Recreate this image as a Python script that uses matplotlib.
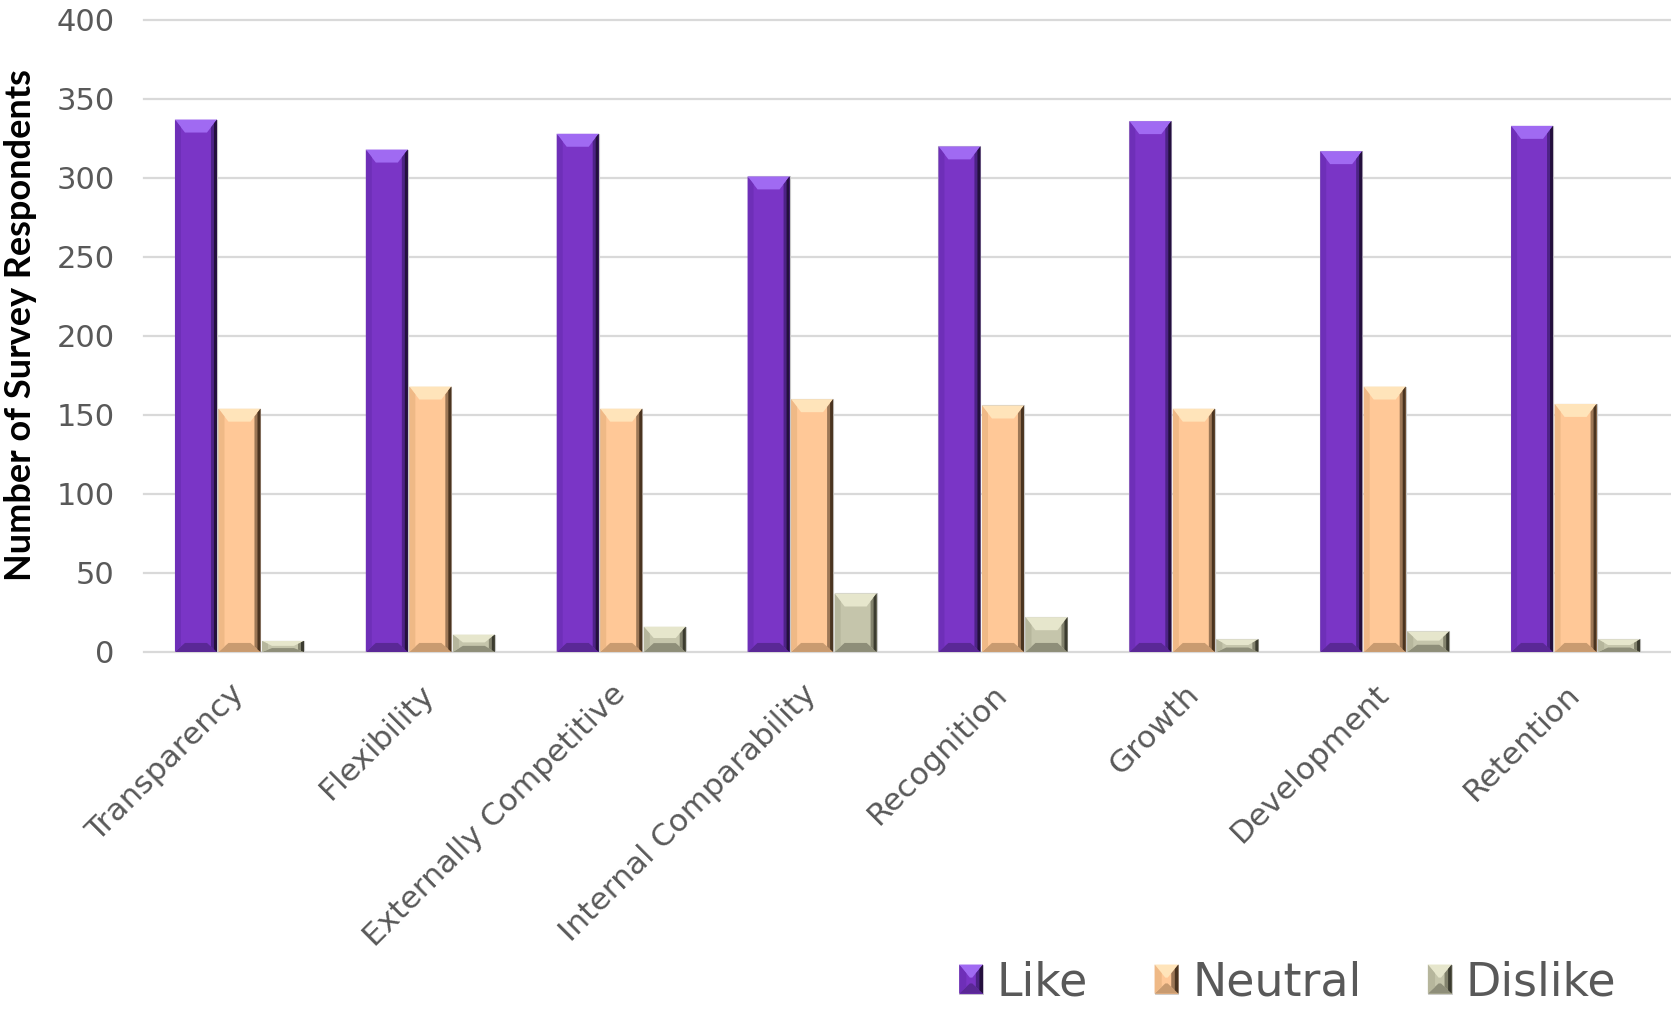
import numpy as np
import matplotlib.pyplot as plt
from matplotlib.patches import Polygon, Patch
from matplotlib.legend_handler import HandlerBase

categories = ['Transparency', 'Flexibility', 'Externally Competitive',
              'Internal Comparability', 'Recognition', 'Growth',
              'Development', 'Retention']
like = [337, 318, 328, 301, 320, 336, 317, 333]
neutral = [154, 168, 154, 160, 156, 154, 168, 157]
dislike = [7, 11, 16, 37, 22, 8, 13, 8]

series_names = ['Like', 'Neutral', 'Dislike']
series_values = [like, neutral, dislike]

# facet colours for the bevelled bars
shades = {
    'Like': dict(base='#7a35c6', top='#a06af2', left='#6e2fb8',
                 right_in='#4d2386', right_out='#24103d', bottom='#5a2896'),
    'Neutral': dict(base='#ffc897', top='#ffe4ba', left='#efb986',
                    right_in='#9c7756', right_out='#4a3420', bottom='#c99b70'),
    'Dislike': dict(base='#c5c5ab', top='#e6e6cc', left='#b6b69c',
                    right_in='#82826d', right_out='#3b3b2f', bottom='#8e8e79'),
}
text_grey = '#595959'


def facets(x0, y0, x1, y1, s, t, b, side):
    # top/bottom trapezoids use the inset s; the side strips are narrower
    xi0, xi1 = x0 + s, x1 - s
    yt, yb = y1 - t, y0 + b
    f = side / s
    return [
        ([(x0, y1), (x1, y1), (xi1, yt), (xi0, yt)], 'top'),
        ([(x0, y0), (x1, y0), (xi1, yb), (xi0, yb)], 'bottom'),
        ([(x0, y1), (x0 + side, y1 - f * t), (x0 + side, y0 + f * b),
          (x0, y0)], 'left'),
        ([(x1, y1), (x1 - side, y1 - f * t), (x1 - side, y0 + f * b),
          (x1, y0)], 'right_in'),
        ([(x1, y1), (x1 - 0.5 * side, y1 - 0.5 * f * t),
          (x1 - 0.5 * side, y0 + 0.5 * f * b), (x1, y0)], 'right_out'),
    ]


class BevelHandler(HandlerBase):
    def __init__(self, pal):
        super().__init__()
        self.pal = pal

    def create_artists(self, legend, orig_handle, xdescent, ydescent,
                       width, height, fontsize, trans):
        x0, y0 = -xdescent, -ydescent
        x1, y1 = x0 + width, y0 + height
        arts = [Polygon([(x0, y0), (x1, y0), (x1, y1), (x0, y1)],
                        closed=True, facecolor=self.pal['base'],
                        edgecolor='#c8c8c8', lw=0.6, transform=trans)]
        for verts, key in facets(x0, y0, x1, y1, width * 0.45,
                                 height * 0.45, height * 0.35, width * 0.3):
            arts.append(Polygon(verts, closed=True, facecolor=self.pal[key],
                                edgecolor='none', transform=trans))
        return arts


fig = plt.figure(figsize=(16.71, 10.10), dpi=100)
ax = fig.add_axes([0.0862, 0.3545, 0.9138, 0.6257])

x = np.arange(len(categories))
width = 0.22
step = 0.228
ax.set_xlim(-0.5, len(categories) - 0.5)
ax.set_ylim(0, 400)

# data units per pixel, used for the bevel insets
pos = ax.get_position()
xpp = (len(categories)) / (pos.width * fig.get_figwidth() * fig.dpi)
ypp = 400 / (pos.height * fig.get_figheight() * fig.dpi)

for i, (name, vals) in enumerate(zip(series_names, series_values)):
    pal = shades[name]
    bars = ax.bar(x + (i - 1) * step, vals, width, color=pal['base'],
                  edgecolor='#c8c8c8', linewidth=0.8, zorder=3)
    for r in bars:
        x0, y0 = r.get_x(), r.get_y()
        x1, y1 = x0 + r.get_width(), y0 + r.get_height()
        h_px = r.get_height() / ypp
        t = min(13, h_px * 0.45) * ypp
        b = min(9, h_px * 0.35) * ypp
        for verts, key in facets(x0, y0, x1, y1, 10 * xpp, t, b, 6 * xpp):
            ax.add_patch(Polygon(verts, closed=True, facecolor=pal[key],
                                 edgecolor='none', zorder=4))

ax.set_yticks(np.arange(0, 401, 50))
ax.yaxis.grid(True, color='#d9d9d9', linewidth=1.6, zorder=0)
for gl in ax.get_ygridlines():
    gl.set_clip_on(False)
ax.set_axisbelow(True)
for sp in ax.spines.values():
    sp.set_visible(False)

ax.tick_params(axis='y', length=0, pad=21, labelsize=22, labelcolor=text_grey)
ax.tick_params(axis='x', length=0, pad=27, labelsize=22.5, labelcolor=text_grey)
ax.set_xticks(x)
ax.set_xticklabels(categories, rotation=45, ha='right', va='center',
                   rotation_mode='anchor')

fig.text(0.0125, 0.678, 'Number of Survey Respondents', rotation=90,
         ha='center', va='center', fontsize=26, fontweight='bold',
         family='Lato', color='black')

handles = [Patch(label=n) for n in series_names]
hmap = {h: BevelHandler(shades[n]) for h, n in zip(handles, series_names)}
fig.legend(handles=handles, handler_map=hmap, loc='center left',
           bbox_to_anchor=(0.574, 0.027), ncol=3, frameon=False,
           fontsize=33, labelcolor=text_grey, handlelength=0.52,
           handleheight=0.6, handletextpad=0.3, columnspacing=1.45,
           borderpad=0, borderaxespad=0)

fig.savefig('out.png', dpi=100)
